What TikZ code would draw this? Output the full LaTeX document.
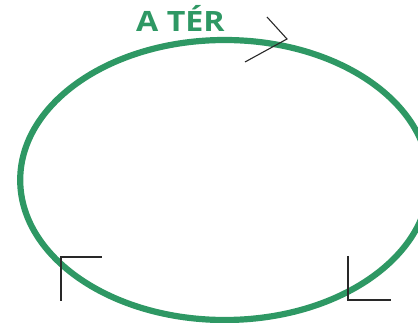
\documentclass[tikz,border=0pt]{standalone}
\usepackage{fontspec}
\setmainfont{Open Sans}
\definecolor{tergreen}{RGB}{46,152,100}
\definecolor{markgray}{RGB}{40,40,40}
\begin{document}
\begin{tikzpicture}[x=1pt,y=-1pt,
  ring/.style={draw=tergreen,line width=6.2pt},
  markline/.style={draw=markgray,line width=1.1pt},
  title/.style={text=tergreen,font=\fontsize{28}{28}\selectfont\bfseries,inner sep=0pt,anchor=base west,xscale=1.15}]
\useasboundingbox (0,0) rectangle (418,323);
\begin{scope}
\clip (0,0) rectangle (418,323);
\draw[ring] (224.7,180) ellipse [x radius=204.5, y radius=140];
\end{scope}
\node[title] (t) at (136,32) {A TÉR};
% arrow-like mark at top
\coordinate (a1) at (245,62);
\coordinate (a2) at (287,39);
\coordinate (a3) at (267,17);
\draw[markline] (a1) -- (a2) -- (a3);
% bottom-left corner mark
\coordinate (b1) at (61,301);
\coordinate (b2) at (61,257);
\coordinate (b3) at (102,257);
\draw[markline] (b1) -- (b2) -- (b3);
% bottom-right corner mark
\coordinate (c1) at (348,256);
\coordinate (c2) at (348,300);
\coordinate (c3) at (391,300);
\draw[markline] (c1) -- (c2) -- (c3);
\end{tikzpicture}
\end{document}
